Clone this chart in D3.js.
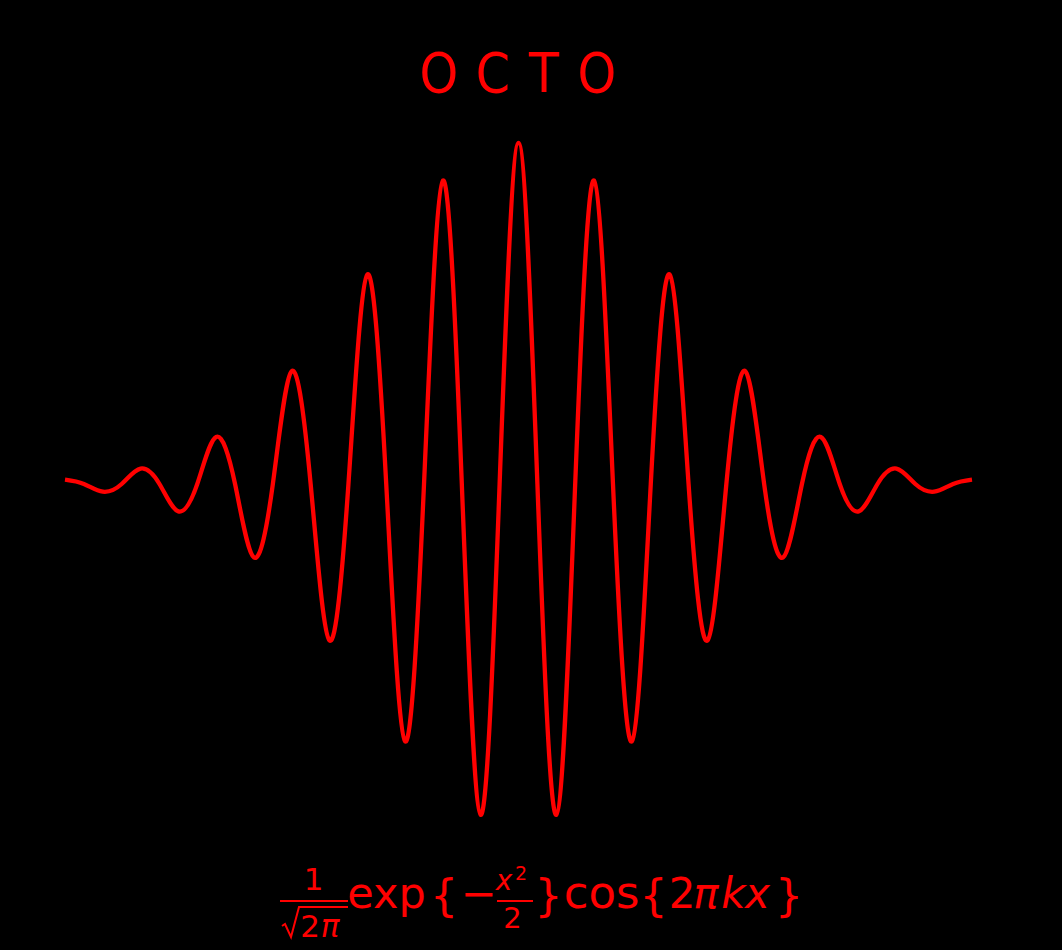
<!DOCTYPE html>
<html>
<head>
<meta charset="utf-8">
<script src="https://cdn.jsdelivr.net/npm/d3@7"></script>
<style>
  html, body { margin: 0; padding: 0; background: #000; }
  svg { display: block; }
  text { font-family: "DejaVu Sans", sans-serif; fill: #ff0000; }
</style>
</head>
<body>
<div id="chart"></div>
<script>
// Wave: extrema and zero crossings
const xPoints = [-3.000,-2.875,-2.750,-2.625,-2.500,-2.375,-2.250,-2.125,-2.000,-1.875,-1.750,-1.625,
  -1.500,-1.375,-1.250,-1.125,-1.000,-0.875,-0.750,-0.625,-0.500,-0.375,-0.250,-0.125,0.000,
  0.125,0.250,0.375,0.500,0.625,0.750,0.875,1.000,1.125,1.250,1.375,1.500,1.625,1.750,1.875,
  2.000,2.125,2.250,2.375,2.500,2.625,2.750,2.875,3.000];
const yPoints = [0.005,0,-0.009,0,0.018,0,-0.032,0,0.055,0,-0.086,0,
  0.132,0,-0.183,0,0.245,0,-0.301,0,0.355,0,-0.387,0,0.399,
  0,-0.387,0,0.355,0,-0.301,0,0.245,0,-0.183,0,0.132,0,-0.086,0,
  0.055,0,-0.032,0,0.018,0,-0.009,0,0.005];
const titleLetters = ["O", "C", "T", "O"];

const W = 1062, H = 950;
const svg = d3.select("#chart").append("svg").attr("width", W).attr("height", H);
svg.append("rect").attr("width", W).attr("height", H).attr("fill", "#000");

const x = d3.scaleLinear().domain([-3, 3]).range([65, 972]);
const y = d3.scaleLinear().domain([-0.4, 0.4]).range([826, 142]);

const data = xPoints.map((v, i) => ({ x: v, y: yPoints[i] }));
const line = d3.line().x(d => x(d.x)).y(d => y(d.y)).curve(d3.curveNatural);

svg.append("path")
  .datum(data)
  .attr("d", line)
  .attr("fill", "none")
  .attr("stroke", "#ff0000")
  .attr("stroke-width", 4.3)
  .attr("stroke-linejoin", "round")
  .attr("stroke-linecap", "butt");

// Title, letters spaced
const titleCenters = [439, 493, 544, 597];
titleLetters.forEach((ch, i) => {
  svg.append("g")
    .attr("transform", `translate(${titleCenters[i]},92) scale(0.88,1)`)
    .append("text")
    .attr("text-anchor", "middle")
    .attr("font-size", 56)
    .text(ch);
});

// Formula
function put(str, cx, base, size, italic) {
  svg.append("text")
    .attr("x", cx).attr("y", base)
    .attr("text-anchor", "middle")
    .attr("font-size", size)
    .attr("font-style", italic ? "italic" : "normal")
    .text(str);
}
function bar(x1, x2, yy) {
  svg.append("line").attr("x1", x1).attr("x2", x2).attr("y1", yy).attr("y2", yy)
    .attr("stroke", "#ff0000").attr("stroke-width", 2);
}
put("1", 313.5, 890, 31, false);
bar(280, 348, 901);
svg.append("path")
  .attr("d", "M282,926 L285,924 L291,937 L299,907 L348,907")
  .attr("fill", "none").attr("stroke", "#ff0000").attr("stroke-width", 2)
  .attr("stroke-linejoin", "miter");
put("2", 310, 937, 31, false);
put("π", 330, 937, 31, true);
put("exp", 386.5, 908, 43, false);
put("{", 444, 911, 44, false);
put("−", 478.5, 908, 43, false);
put("x", 504, 890, 28, true);
put("2", 521, 880, 19, false);
bar(497, 533, 901);
put("2", 512.5, 928, 29, false);
put("}", 548.5, 911, 44, false);
put("cos", 601.5, 908, 45, false);
put("{", 653.5, 911, 44, false);
put("2", 682, 908, 42, false);
put("π", 706, 908, 42, true);
put("k", 733.5, 908, 42, true);
put("x", 757.5, 908, 42, true);
put("}", 789, 911, 44, false);
</script>
</body>
</html>
